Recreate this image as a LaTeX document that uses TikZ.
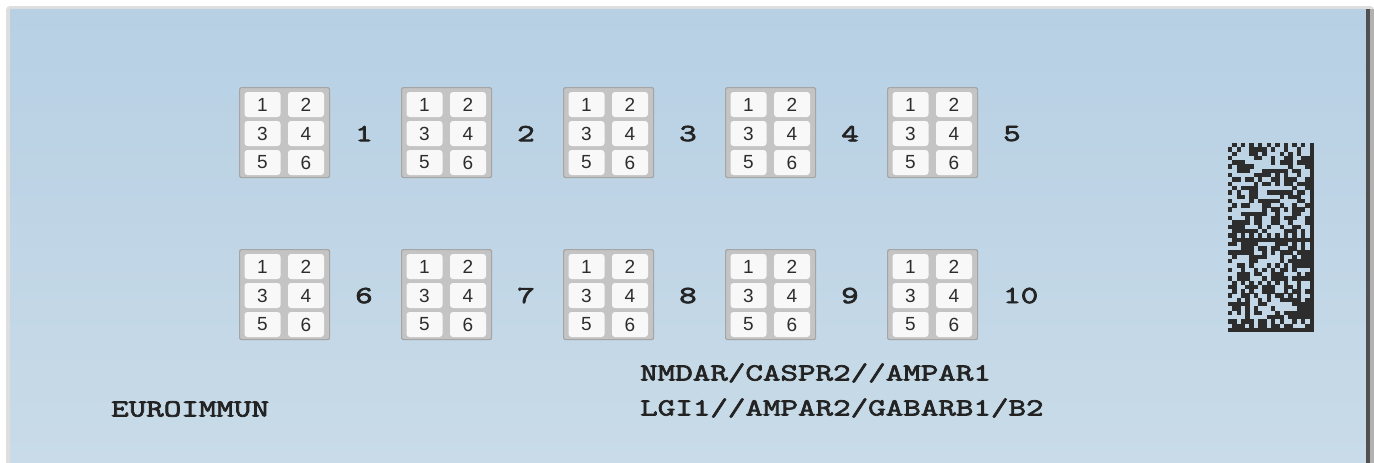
\documentclass[tikz,border=0pt]{standalone}
\usepackage{fontspec}
\setmainfont{Liberation Sans}
\newfontfamily\codefont{Latin Modern Mono}[FakeStretch=1.39, FakeBold=3]
\usetikzlibrary{calc}
\definecolor{cardtop}{RGB}{183,208,228}
\definecolor{cardbot}{RGB}{201,219,232}
\definecolor{edgegray}{RGB}{222,222,222}
\definecolor{edgedark}{RGB}{80,80,80}
\definecolor{boxfill}{RGB}{196,196,196}
\definecolor{boxdraw}{RGB}{165,165,165}
\definecolor{cellfill}{RGB}{248,248,248}
\definecolor{ink}{RGB}{45,45,45}
\definecolor{textink}{RGB}{35,35,35}
\definecolor{dmink}{RGB}{45,45,45}
\tikzset{
  slidebox/.style={draw=boxdraw, fill=boxfill, line width=1.2pt, rounded corners=2pt,
    minimum width=90pt, minimum height=90pt, inner sep=0pt, anchor=north west},
  cell/.style={fill=cellfill, rounded corners=3pt, minimum width=36pt, minimum height=25pt,
    inner sep=0pt, font=\fontsize{19}{19}\selectfont, text=ink},
  mono/.style={font=\codefont\fontsize{24.5}{26}\selectfont, text=textink, inner sep=0pt, anchor=west},
  module/.style={fill=dmink},
}
\begin{document}
\begin{tikzpicture}[x=1pt,y=-1pt]
\useasboundingbox (0,0) rectangle (1374,463);
\fill[white] (0,0) rectangle (1374,463);
% card
\fill[edgegray, rounded corners=4pt] (6,6) rectangle (1374,480);
\shade[top color=cardtop, bottom color=cardbot] (10,9) rectangle (1366,463);
\fill[edgedark] (1366,9) rectangle (1370,463);
\fill[edgegray!80!black] (1370,9) rectangle (1374,463);
% slides
\foreach \i in {1,...,10} {
  \pgfmathtruncatemacro\col{mod(\i-1,5)}
  \pgfmathtruncatemacro\row{div(\i-1,5)}
  \pgfmathsetmacro\bx{239+162*\col}
  \pgfmathsetmacro\by{\row==0 ? 87 : 249}
  \node[slidebox] (s\i) at (\bx,\by) {};
  \foreach \n/\dx/\dy in {1/23.5/17.5, 2/67/17.5, 3/23.5/46.5, 4/67/46.5, 5/23.5/75.5, 6/67/75.5}
    \node[cell] (s\i c\n) at ($(s\i.north west)+(\dx,\dy)$) {\n};
  \node[mono] (l\i) at ($(s\i.west)+(116,1)$) {\i};
}
% texts
\node[mono] (t1) at (640,373) {NMDAR/CASPR2//AMPAR1};
\node[mono] (t2) at (640,408) {LGI1//AMPAR2/GABARB1/B2};
\node[mono] (brand) at (111,409) {EUROIMMUN};
% data matrix
\pgfmathsetseed{4242}
\def\ms{4.3}
\foreach \r in {0,...,43} {
  \foreach \c in {0,...,19} {
    \pgfmathtruncatemacro\on{
      (\c==19) ? 1 :
      ((\r==43) ? 1 :
      ((\r==0) ? (mod(\c,2)==1 ? 1 : 0) :
      ((\c==0) ? (mod(\r,2)==1 ? 1 : 0) :
      ((\r==22) ? 1 :
      ((\r==21) ? (mod(\c,2)==1 ? 1 : 0) :
      (rnd<0.5 ? 1 : 0))))))}
    \ifnum\on=1
      \fill[module] (1228+\c*\ms-0.05,143+\r*\ms-0.05) rectangle ++(\ms+0.1,\ms+0.1);
    \fi
  }
}
\end{tikzpicture}
\end{document}
